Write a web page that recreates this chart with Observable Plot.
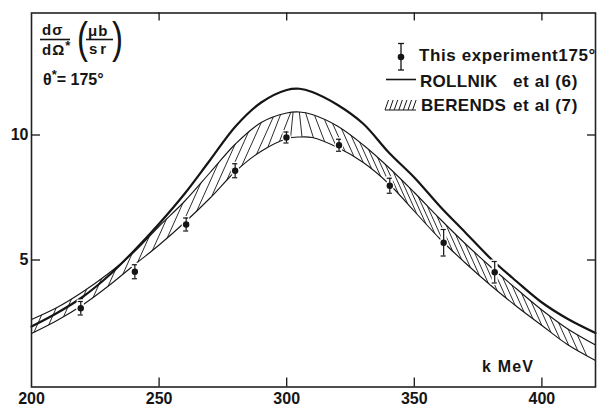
<!DOCTYPE html>
<html><head><meta charset="utf-8">
<script src="https://cdn.jsdelivr.net/npm/d3@7"></script>
<script src="https://cdn.jsdelivr.net/npm/@observablehq/plot@0.6"></script>
<style>
html,body{margin:0;padding:0;background:#fff;}
#chart svg{display:block;}
</style></head><body><div id="chart"></div>
<script>
// ---- data ----
const kGrid        = [200,210,220,230,240,250,260,270,280,290,300,305,310,320,330,340,350,360,370,380,390,400,410,421];
const rollnik      = [2.34,2.88,3.52,4.35,5.35,6.45,7.65,9.0,10.35,11.3,11.8,11.85,11.72,11.2,10.45,9.3,8.3,7.15,6.1,5.05,4.15,3.3,2.65,2.08];
const berendsUpper = [2.62,3.1,3.72,4.45,5.3,6.35,7.35,8.5,9.65,10.5,10.88,10.92,10.82,10.35,9.6,8.7,7.7,6.65,5.65,4.72,3.85,3.0,2.25,1.6];
const berendsLower = [2.06,2.58,3.2,3.95,4.78,5.6,6.5,7.48,8.55,9.35,9.85,9.92,9.9,9.5,8.9,8.05,6.95,5.85,4.88,3.98,3.15,2.38,1.62,0.98];
const expK     = [219.3,240.5,260.6,279.8,299.9,320.5,340.4,361.5,381.5];
const expSigma = [3.07,4.53,6.42,8.57,9.9,9.59,7.97,5.69,4.51];
const expErr   = [0.27,0.28,0.26,0.28,0.22,0.24,0.3,0.53,0.43];
const xTicks = [200,250,300,350,400];
const yTicks = [5,10];

// ---- layout ----
const W = 598, H = 406, mL = 31, mR = 3, mT = 12.5, mB = 19.5;
const xDomain = [200, 421], yDomain = [-0.08, 14.88];
const plotW = W - mL - mR, plotH = H - mT - mB;

const band = kGrid.map((k, i) => ({k, lo: berendsLower[i], hi: berendsUpper[i], r: rollnik[i]}));
const pts = expK.map((k, i) => ({k, s: expSigma[i], e: expErr[i]}));

// hatch strokes across the Berends band (derived from the band arrays)
const loAt = d3.scaleLinear(kGrid, berendsLower);
const hiAt = d3.scaleLinear(kGrid, berendsUpper);
const pxPerK = plotW / (xDomain[1] - xDomain[0]);
const pxPerS = plotH / (yDomain[1] - yDomain[0]);
const ratio = pxPerS / pxPerK;
function hatchSeg(k0) {
  const mid = k => (loAt(k) + hiAt(k)) / 2;
  const slopePx = (mid(k0 + 1) - mid(k0 - 1)) / 2 * ratio;
  const tilt = 0.45 * Math.max(-1, Math.min(1, slopePx / 0.5));
  const y0 = loAt(k0);
  let d = 0;
  while (d < 6 && y0 + d < hiAt(k0 + tilt * ratio * d)) d += 0.005;
  const ext = 0.25;
  return {x1: k0 - tilt * ratio * ext, y1: y0 - ext, x2: k0 + tilt * ratio * (d + ext), y2: y0 + d + ext};
}
const hatch = [];
for (let k = 201; k < 421; k += (k < 288 ? 5.8 : k < 318 ? 4.5 : 3.5)) hatch.push(hatchSeg(k));

const ink = "#151515";
const chart = Plot.plot({
  width: W, height: H,
  marginLeft: mL, marginRight: mR, marginTop: mT, marginBottom: mB,
  style: {fontFamily: "'Liberation Sans', Arial, sans-serif", fontSize: "16px", fontWeight: "bold", background: "white", color: ink},
  x: {domain: xDomain, ticks: xTicks, tickSize: 0, tickPadding: 6, label: null, tickFormat: d => String(d)},
  y: {domain: yDomain, ticks: yTicks, tickSize: 0, tickPadding: 3, label: null, tickFormat: d => String(d)},
  marks: [
    Plot.areaY(band, {x: "k", y1: "lo", y2: "hi", fill: "none", curve: "catmull-rom"}),
    Plot.link(hatch, {x1: "x1", y1: "y1", x2: "x2", y2: "y2", stroke: ink, strokeWidth: 0.9}),
    Plot.line(band, {x: "k", y: "hi", stroke: ink, strokeWidth: 1.1, curve: "catmull-rom"}),
    Plot.line(band, {x: "k", y: "lo", stroke: ink, strokeWidth: 1.1, curve: "catmull-rom"}),
    Plot.line(band, {x: "k", y: "r", stroke: ink, strokeWidth: 2.2, curve: "catmull-rom"}),
    // white halos around the experimental points
    Plot.ruleX(pts, {x: "k", y1: d => d.s - d.e, y2: d => d.s + d.e, stroke: "white", strokeWidth: 6}),
    Plot.ruleY(pts, {y: d => d.s + d.e, x1: d => d.k - 1.4, x2: d => d.k + 1.4, stroke: "white", strokeWidth: 4}),
    Plot.ruleY(pts, {y: d => d.s - d.e, x1: d => d.k - 1.4, x2: d => d.k + 1.4, stroke: "white", strokeWidth: 4}),
    Plot.dot(pts, {x: "k", y: "s", r: 4.6, fill: "white"}),
    Plot.ruleX(pts, {x: "k", y1: d => d.s - d.e, y2: d => d.s + d.e, stroke: ink, strokeWidth: 1.2}),
    Plot.ruleY(pts, {y: d => d.s + d.e, x1: d => d.k - 1, x2: d => d.k + 1, stroke: ink, strokeWidth: 1.2}),
    Plot.ruleY(pts, {y: d => d.s - d.e, x1: d => d.k - 1, x2: d => d.k + 1, stroke: ink, strokeWidth: 1.2}),
    Plot.dot(pts, {x: "k", y: "s", r: 3.2, fill: ink}),
    Plot.frame({stroke: "#222", strokeWidth: 1.6}),
    // inward ticks on all four sides
    Plot.ruleX(xTicks.filter(t => t > xDomain[0]), {x: d => d, insetTop: plotH - 9, stroke: ink, strokeWidth: 1.3}),
    Plot.ruleX(xTicks.filter(t => t > xDomain[0]), {x: d => d, insetBottom: plotH - 8, stroke: ink, strokeWidth: 1.3}),
    Plot.ruleY(yTicks, {y: d => d, insetRight: plotW - 9, stroke: ink, strokeWidth: 1.3}),
    Plot.ruleY(yTicks, {y: d => d, insetLeft: plotW - 8, stroke: ink, strokeWidth: 1.3})
  ]
});
document.getElementById("chart").append(chart);

// clip the hatch strokes to the band
const svg = d3.select(chart);
const areaPath = chart.querySelector('g[aria-label="area"] path');
const hatchG = chart.querySelector('g[aria-label="link"]');
if (areaPath && hatchG) {
  const defs = svg.insert("defs", ":first-child");
  const cp = defs.append("clipPath").attr("id", "bandclip");
  const p = cp.append("path").attr("d", areaPath.getAttribute("d"));
  if (areaPath.getAttribute("transform")) p.attr("transform", areaPath.getAttribute("transform"));
  hatchG.setAttribute("clip-path", "url(#bandclip)");
}

// ---- annotations & legend ----
const F = "'Liberation Sans', Arial, sans-serif";
const notes = svg.append("g").attr("text-anchor", "start");
function txt(x, y, s, size, opts = {}) {
  const t = notes.append("text").attr("x", x).attr("y", y).attr("font-family", F)
    .attr("font-size", size).attr("font-weight", opts.weight || "bold").attr("fill", ink)
    .attr("letter-spacing", opts.ls || 0).attr("text-anchor", opts.anchor || "start");
  if (opts.transform) t.attr("transform", opts.transform);
  t.text(s);
  return t;
}
// y-axis quantity: dσ/dΩ* (μb/sr)
txt(42, 35, "dσ", 15, {ls: 1});
notes.append("line").attr("x1", 40).attr("x2", 70).attr("y1", 39.5).attr("y2", 39.5).attr("stroke", ink).attr("stroke-width", 1.6);
const om = txt(42, 55, "dΩ", 15, {ls: 1});
om.append("tspan").attr("dy", -5).attr("font-size", 13).text("*");
txt(0, 0, "(", 44, {weight: "normal", transform: "translate(77,53) scale(0.75,1)"});
txt(88, 36, "μb", 15, {ls: 1});
notes.append("line").attr("x1", 86).attr("x2", 113).attr("y1", 39.5).attr("y2", 39.5).attr("stroke", ink).attr("stroke-width", 1.6);
txt(89, 54, "sr", 15, {ls: 3});
txt(0, 0, ")", 44, {weight: "normal", transform: "translate(112,53) scale(0.75,1)"});
const th = txt(43, 85, "θ", 16);
th.append("tspan").attr("dy", -6).attr("font-size", 13).text("*");
th.append("tspan").attr("dy", 6).text("= 175°");

// legend
const lg = svg.append("g").attr("stroke", ink);
lg.append("line").attr("x1", 401).attr("x2", 401).attr("y1", 43.5).attr("y2", 70).attr("stroke-width", 1.3);
lg.append("line").attr("x1", 398).attr("x2", 404).attr("y1", 43.5).attr("y2", 43.5).attr("stroke-width", 1.3);
lg.append("line").attr("x1", 398).attr("x2", 404).attr("y1", 70).attr("y2", 70).attr("stroke-width", 1.3);
lg.append("circle").attr("cx", 401).attr("cy", 57).attr("r", 3.3).attr("fill", ink).attr("stroke", "none");
lg.append("line").attr("x1", 386).attr("x2", 416).attr("y1", 79.5).attr("y2", 79.5).attr("stroke-width", 1.6);
for (let i = 0; i < 7; i++) {
  lg.append("line").attr("x1", 385 + i * 4.6).attr("y1", 110).attr("x2", 388.5 + i * 4.6).attr("y2", 100).attr("stroke-width", 1);
}
lg.append("line").attr("x1", 385).attr("x2", 416).attr("y1", 110).attr("y2", 110).attr("stroke-width", 1);
txt(419, 61, "This experiment175°", 17, {ls: 0.6});
txt(420, 87, "ROLLNIK", 17, {ls: 0.3});
txt(513, 87, "et al (6)", 17, {ls: 0.6});
txt(421, 110.5, "BERENDS", 17, {ls: 0.3});
txt(513, 110.5, "et al (7)", 17, {ls: 0.6});
txt(482, 371.5, "k MeV", 16, {ls: 1.2});
</script></body></html>
